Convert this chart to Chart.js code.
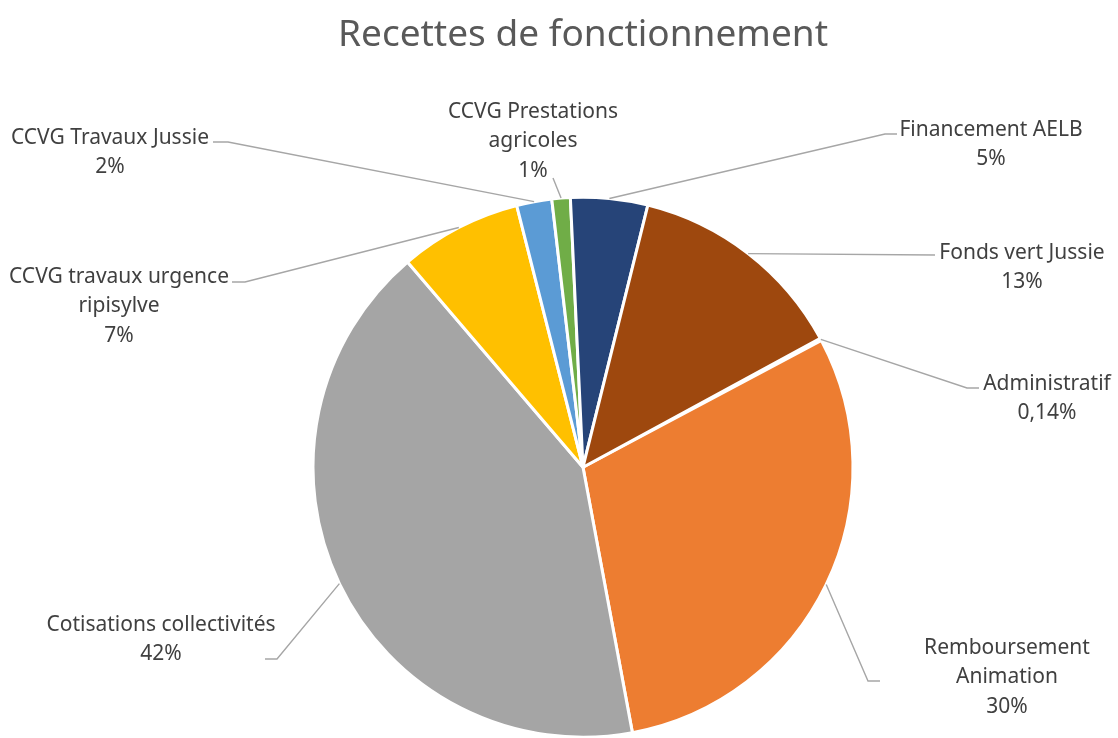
<!DOCTYPE html>
<html>
<head>
<meta charset="utf-8">
<script src="https://cdn.jsdelivr.net/npm/chart.js@4/dist/chart.umd.min.js"></script>
<style>
  body { margin: 0; background: #fff; }
  #wrap { width: 1118px; height: 738px; }
</style>
</head>
<body>
<div id="wrap"><canvas id="chartContainer" width="1118" height="738"></canvas></div>
<script>
"use strict";

// 1: data
const categories = [
  'Administratif',
  'Remboursement Animation',
  'Cotisations collectivités',
  'CCVG travaux urgence ripisylve',
  'CCVG Travaux Jussie',
  'CCVG Prestations agricoles',
  'Financement AELB',
  'Fonds vert Jussie'
];
const amounts = [0.14, 29.8, 41.6, 7.3, 2.1, 1.1, 4.6, 13.2];
const colors = ['#4472C4', '#ED7D31', '#A5A5A5', '#FFC000', '#5B9BD5', '#70AD47', '#264478', '#9E480E'];

// 2: where the labels sit (label centre, wrap width, leader line points after the slice edge)
const labelLayout = [
  { x: 1047, y: 384, wrap: 150, path: [[967, 388], [979, 388]] },
  { x: 1007, y: 648, wrap: 200, path: [[868, 681], [880, 681]] },
  { x: 161, y: 625, wrap: 260, path: [[277, 659], [265, 659]] },
  { x: 119, y: 277, wrap: 240, path: [[245, 282], [232, 282]] },
  { x: 110, y: 138, wrap: 230, path: [[228, 142], [213, 142]] },
  { x: 533, y: 112, wrap: 200, path: [[553, 178]] },
  { x: 991, y: 130, wrap: 210, path: [[885, 134], [897, 134]] },
  { x: 1022, y: 253, wrap: 190, path: [[935, 255]] }
];

function fmtPct(p) {
  if (p < 0.5) return p.toFixed(2).replace('.', ',') + '%';
  return Math.round(p) + '%';
}

function wrapText(ctx, text, maxWidth) {
  const words = text.split(' ');
  let lines = [];
  let cur = '';
  for (const w of words) {
    const test = cur ? cur + ' ' + w : w;
    if (cur && ctx.measureText(test).width > maxWidth) {
      lines.push(cur);
      cur = w;
    } else {
      cur = test;
    }
  }
  if (cur) lines.push(cur);
  return lines;
}

// 3: outside labels with leader lines
const outLabels = {
  id: 'outLabels',
  afterDatasetsDraw(chart) {
    const ctx = chart.ctx;
    const meta = chart.getDatasetMeta(0);
    const values = chart.data.datasets[0].data;
    const total = values.reduce((a, b) => a + b, 0);
    ctx.save();
    ctx.font = '21px "Noto Sans"';
    ctx.textAlign = 'center';
    ctx.textBaseline = 'middle';
    meta.data.forEach((arc, i) => {
      const p = arc.getProps(['x', 'y', 'startAngle', 'endAngle', 'outerRadius'], true);
      const mid = (p.startAngle + p.endAngle) / 2;
      const ax = p.x + Math.cos(mid) * p.outerRadius;
      const ay = p.y + Math.sin(mid) * p.outerRadius;
      const lay = labelLayout[i];

      ctx.strokeStyle = '#A6A6A6';
      ctx.lineWidth = 1.4;
      ctx.beginPath();
      ctx.moveTo(ax, ay);
      for (const pt of lay.path) ctx.lineTo(pt[0], pt[1]);
      ctx.stroke();

      const lines = wrapText(ctx, chart.data.labels[i], lay.wrap);
      lines.push(fmtPct(values[i] / total * 100));
      ctx.fillStyle = '#404040';
      lines.forEach((t, k) => ctx.fillText(t, lay.x, lay.y + k * 29.5));
    });
    ctx.restore();
  }
};

// 4: chart
const chart = new Chart(document.getElementById('chartContainer'), {
  type: 'pie',
  data: {
    labels: categories,
    datasets: [{
      data: amounts,
      backgroundColor: colors,
      borderColor: '#ffffff',
      borderWidth: 3
    }]
  },
  options: {
    responsive: false,
    animation: false,
    rotation: 61.5,
    radius: 270,
    layout: { padding: { left: 48, right: 0, top: 0, bottom: 0 } },
    plugins: {
      legend: { display: false },
      tooltip: { enabled: false },
      title: {
        display: true,
        text: 'Recettes de fonctionnement',
        color: '#595959',
        font: { family: '"Noto Sans"', size: 37, weight: 'normal' },
        padding: { top: 13, bottom: 139 }
      }
    },
    events: []
  },
  plugins: [outLabels]
});
</script>
</body>
</html>
